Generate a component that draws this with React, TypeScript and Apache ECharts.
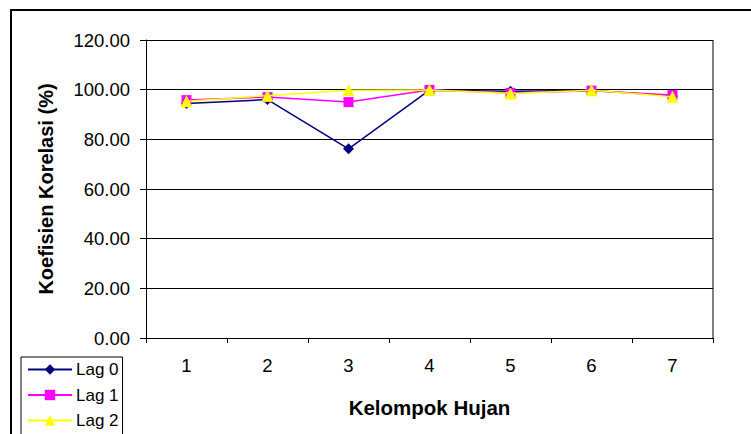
import React, { useEffect, useRef } from "react";
import * as echarts from "echarts";

const categories = ["1", "2", "3", "4", "5", "6", "7"];
const lag0 = [94.4, 96.0, 76.2, 99.8, 99.4, 99.7, 97.5];
const lag1 = [95.8, 97.0, 95.0, 99.9, 98.7, 99.6, 97.9];
const lag2 = [95.3, 97.6, 99.8, 99.9, 98.5, 99.8, 97.1];
const seriesNames = ["Lag 0", "Lag 1", "Lag 2"];

const FONT = "'Liberation Sans', Arial, sans-serif";

export default function App() {
  const ref = useRef<HTMLDivElement>(null);
  useEffect(() => {
    document.body.style.margin = "0";
    const chart = echarts.init(ref.current!, null, { renderer: "svg" });
    chart.setOption({
      animation: false,
      backgroundColor: "#ffffff",
      textStyle: { fontFamily: FONT },
      grid: { left: 146, right: 38, top: 40, bottom: 96, show: false },
      legend: {
        orient: "vertical",
        left: 21,
        top: 357,
        height: 120,
        data: seriesNames,
        itemWidth: 44,
        itemHeight: 13,
        itemGap: 8.5,
        padding: [4, 4, 10, 6],
        backgroundColor: "#ffffff",
        borderColor: "#000000",
        borderWidth: 1,
        borderRadius: 0,
        textStyle: { fontSize: 17, color: "#000", fontFamily: FONT, padding: [0, 0, 0, -1] },
      },
      xAxis: {
        type: "category",
        data: categories,
        boundaryGap: true,
        name: "Kelompok Hujan",
        nameLocation: "middle",
        nameGap: 59,
        nameTextStyle: { fontSize: 20.5, fontWeight: "bold", color: "#000", fontFamily: FONT },
        axisLine: { lineStyle: { color: "#000", width: 1 } },
        axisTick: { show: true, alignWithLabel: false, length: 5, lineStyle: { color: "#000" } },
        axisLabel: { fontSize: 18.5, color: "#000", margin: 18, fontFamily: FONT },
      },
      yAxis: {
        type: "value",
        min: 0,
        max: 120,
        interval: 20,
        name: "Koefisien Korelasi (%)",
        nameLocation: "middle",
        nameGap: 90,
        nameTextStyle: { fontSize: 20, fontWeight: "bold", color: "#000", fontFamily: FONT },
        axisLine: { show: true, lineStyle: { color: "#000", width: 1 } },
        axisTick: { show: true, length: 6, lineStyle: { color: "#000" } },
        axisLabel: {
          fontSize: 18.5,
          color: "#000",
          margin: 16,
          fontFamily: FONT,
          formatter: (v: number) => v.toFixed(2),
        },
        splitLine: { show: true, lineStyle: { color: "#000", width: 1 } },
      },
      graphic: [
        {
          type: "rect",
          shape: { x: 11, y: 10, width: 800, height: 500 },
          style: { fill: "none", stroke: "#000", lineWidth: 2 },
          silent: true,
          z: 100,
        },
        {
          type: "line",
          shape: { x1: 713, y1: 40, x2: 713, y2: 338 },
          style: { stroke: "#000", lineWidth: 1 },
          silent: true,
        },
      ],
      series: [
        {
          name: "Lag 0",
          type: "line",
          data: lag0,
          symbol: "diamond",
          symbolSize: 11,
          itemStyle: { color: "#000080" },
          lineStyle: { color: "#000080", width: 1.5 },
          z: 2,
        },
        {
          name: "Lag 1",
          type: "line",
          data: lag1,
          symbol: "rect",
          symbolSize: 10,
          itemStyle: { color: "#FF00FF" },
          lineStyle: { color: "#FF00FF", width: 1.5 },
          z: 3,
        },
        {
          name: "Lag 2",
          type: "line",
          data: lag2,
          symbol: "triangle",
          symbolSize: 12,
          itemStyle: { color: "#FFFF00" },
          lineStyle: { color: "#FFFF00", width: 1.5 },
          z: 4,
        },
      ],
    });
    return () => chart.dispose();
  }, []);
  return <div ref={ref} style={{ width: 751, height: 434 }} />;
}
